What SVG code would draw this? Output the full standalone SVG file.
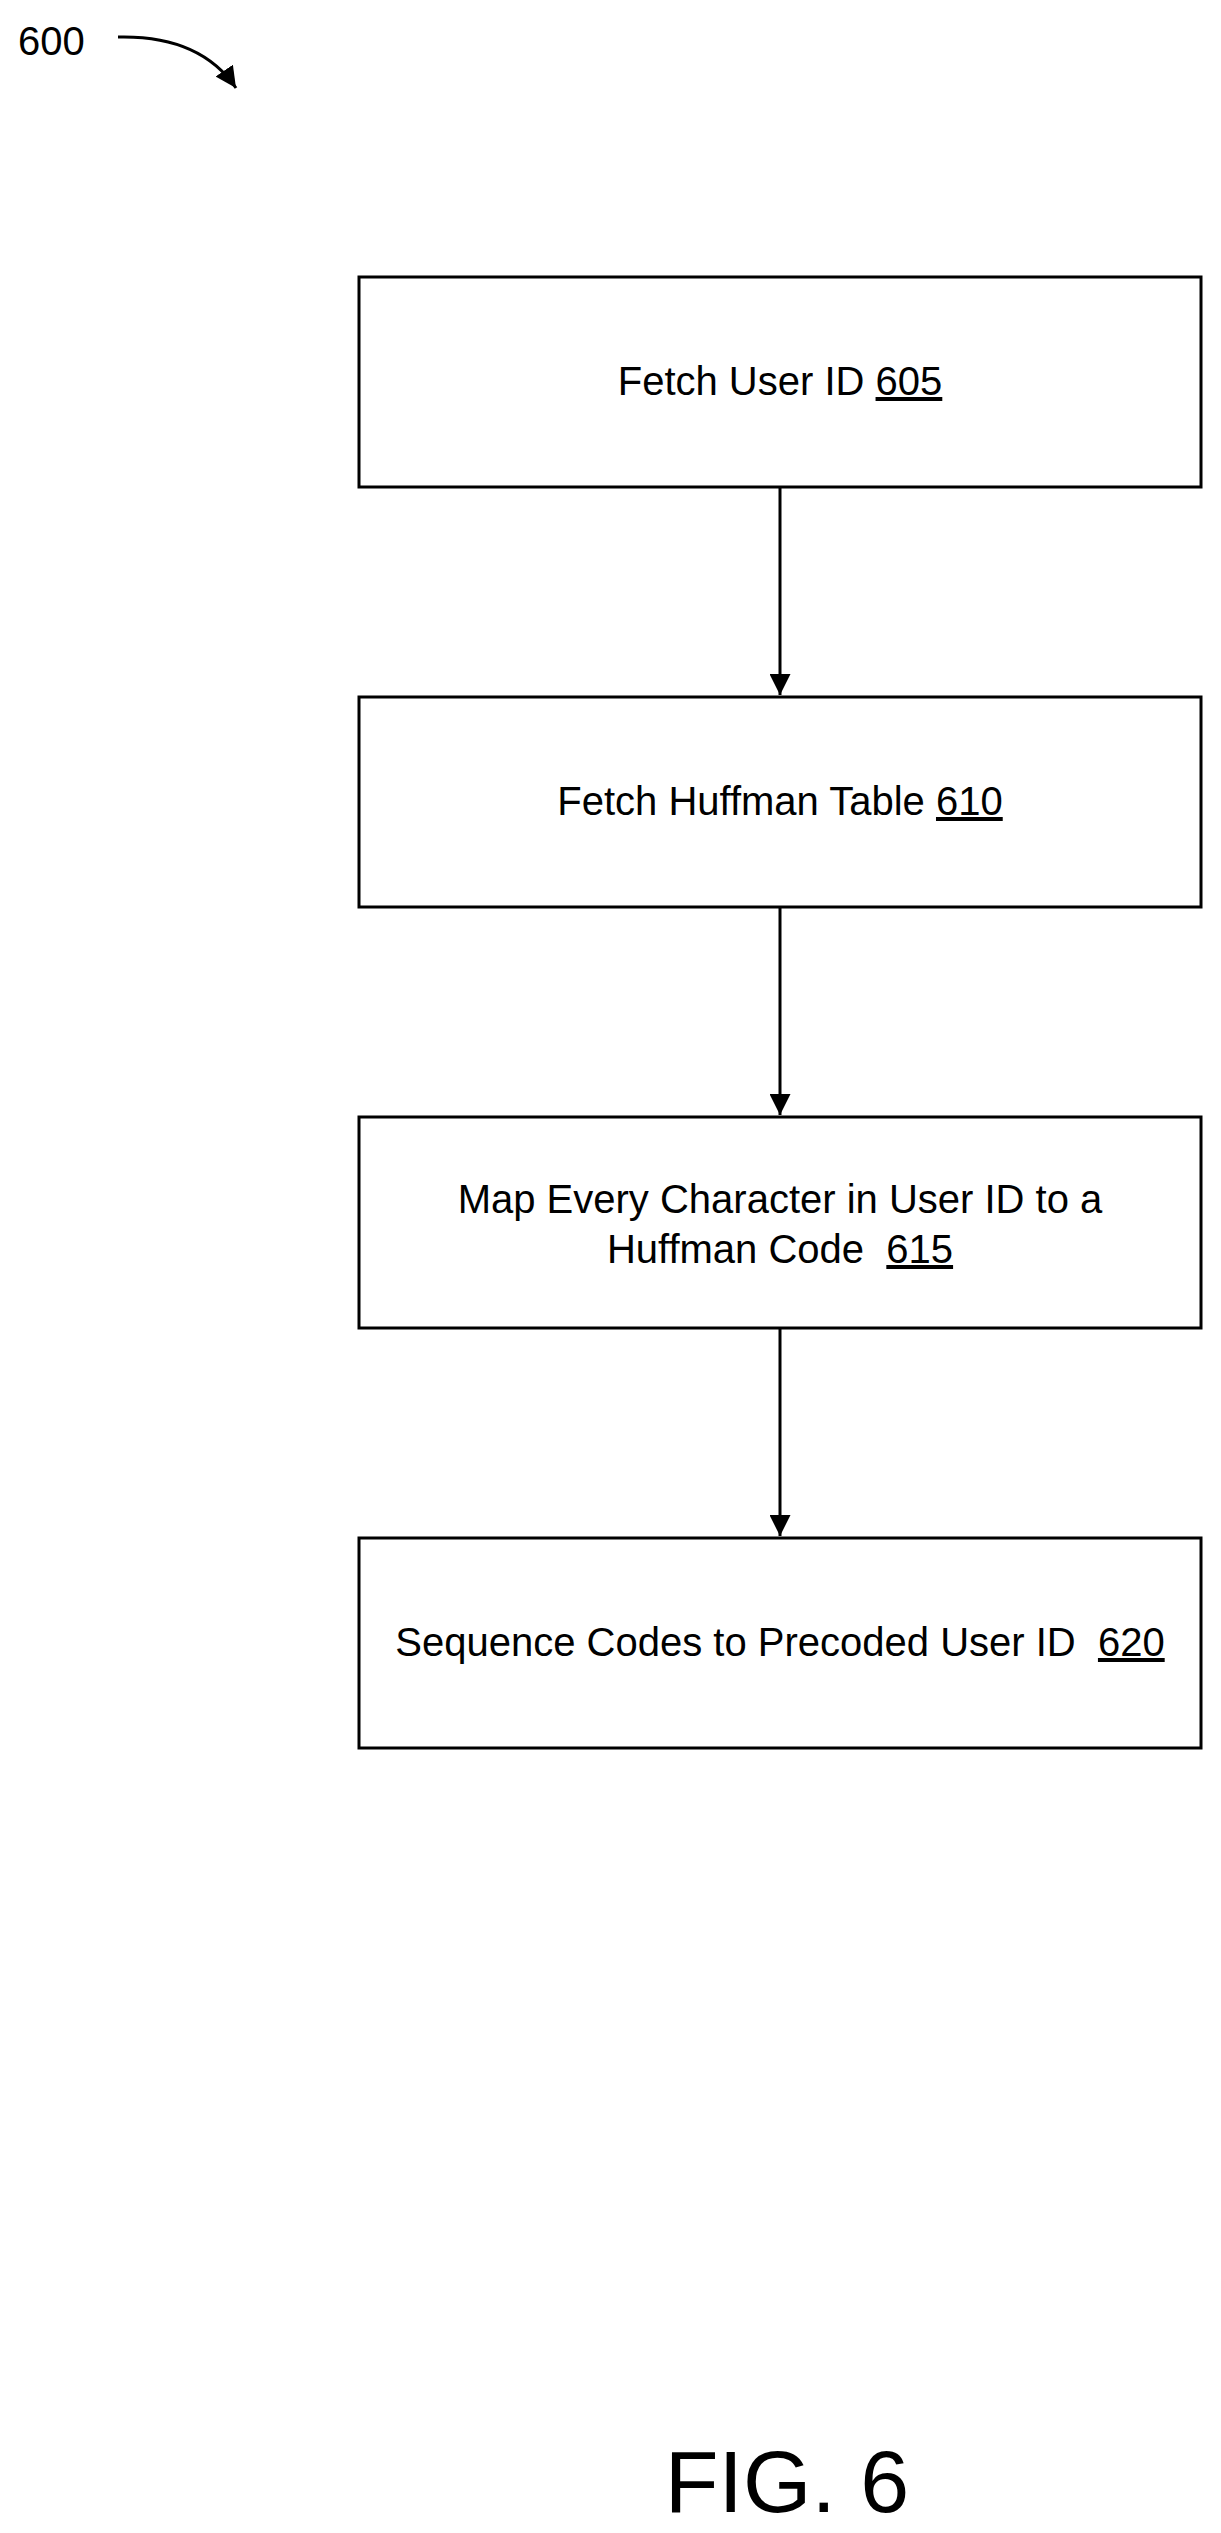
<svg xmlns="http://www.w3.org/2000/svg" width="1221" height="2533" viewBox="0 0 1221 2533">
<style>
.box{fill:#fff;stroke:#000;stroke-width:3}
text{font-family:"Liberation Sans",Arial,sans-serif;font-size:40px;fill:#000}
.c{text-anchor:middle}
.ln{stroke:#000;stroke-width:3;fill:none}
</style>
<defs><marker id="a" viewBox="0 0 10 10" refX="10" refY="5" markerWidth="7" markerHeight="7" orient="auto"><path d="M0,0L10,5L0,10z"/></marker></defs>
<rect width="1221" height="2533" fill="#fff"/>
<text x="18" y="55">600</text>
<path class="ln" d="M118,37 Q200,35 236,88" marker-end="url(#a)"/>
<g id="n605"><rect class="box" x="359" y="277" width="842" height="210"/><text class="c" x="780" y="395">Fetch User ID <tspan text-decoration="underline">605</tspan></text></g>
<g id="n610"><rect class="box" x="359" y="697" width="842" height="210"/><text class="c" x="780" y="815">Fetch Huffman Table <tspan text-decoration="underline">610</tspan></text></g>
<g id="n615"><rect class="box" x="359" y="1117" width="842" height="211"/><text class="c" x="780" y="1213">Map Every Character in User ID to a</text><text class="c" x="780" y="1263">Huffman Code&#160; <tspan text-decoration="underline">615</tspan></text></g>
<g id="n620"><rect class="box" x="359" y="1538" width="842" height="210"/><text class="c" x="780" y="1656">Sequence Codes to Precoded User ID&#160; <tspan text-decoration="underline">620</tspan></text></g>
<g id="connectors">
<path class="ln" d="M780,487V695" marker-end="url(#a)"/>
<path class="ln" d="M780,907V1115" marker-end="url(#a)"/>
<path class="ln" d="M780,1328V1536" marker-end="url(#a)"/>
</g>
<text class="c" x="787" y="2512" style="font-size:88px">FIG. 6</text>
</svg>
